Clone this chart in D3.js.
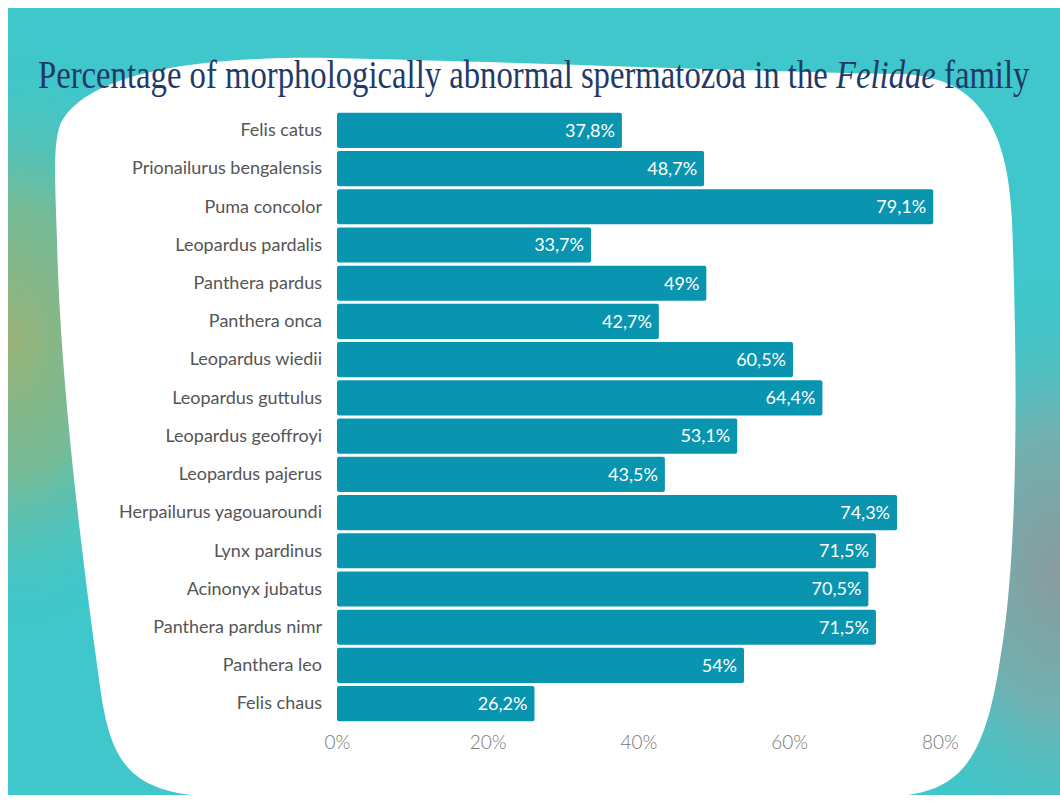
<!DOCTYPE html>
<html>
<head>
<meta charset="utf-8">
<script src="https://cdn.jsdelivr.net/npm/d3@7"></script>
<style>
  body { margin: 0; background: #fff; }
  svg { display: block; }
</style>
</head>
<body>
<div id="chart"></div>
<script>
// data
const species = [
  'Felis catus', 'Prionailurus bengalensis', 'Puma concolor', 'Leopardus pardalis',
  'Panthera pardus', 'Panthera onca', 'Leopardus wiedii', 'Leopardus guttulus',
  'Leopardus geoffroyi', 'Leopardus pajerus', 'Herpailurus yagouaroundi', 'Lynx pardinus',
  'Acinonyx jubatus', 'Panthera pardus nimr', 'Panthera leo', 'Felis chaus'
];
const values = [37.8, 48.7, 79.1, 33.7, 49, 42.7, 60.5, 64.4, 53.1, 43.5, 74.3, 71.5, 70.5, 71.5, 54, 26.2];
const ticks = [0, 20, 40, 60, 80];

const width = 1060;
const height = 801;
const margin = {top: 112, right: 120, bottom: 80, left: 337};

const svg = d3.select('#chart')
  .append('svg')
    .attr('width', width)
    .attr('height', height);

//
// BACKGROUND
//
const defs = svg.append('defs');
const g1 = defs.append('radialGradient')
  .attr('id', 'warm')
  .attr('gradientUnits', 'userSpaceOnUse')
  .attr('cx', 0).attr('cy', 0).attr('r', 1)
  .attr('gradientTransform', 'translate(10,340) scale(200,300)');
g1.append('stop').attr('offset', '0%').attr('stop-color', '#98b275');
g1.append('stop').attr('offset', '45%').attr('stop-color', '#82b88a').attr('stop-opacity', 0.8);
g1.append('stop').attr('offset', '100%').attr('stop-color', '#3fc7cb').attr('stop-opacity', 0);
const g2 = defs.append('radialGradient')
  .attr('id', 'grey')
  .attr('gradientUnits', 'userSpaceOnUse')
  .attr('cx', 0).attr('cy', 0).attr('r', 1)
  .attr('gradientTransform', 'translate(1060,570) scale(200,300)');
g2.append('stop').attr('offset', '0%').attr('stop-color', '#8a9a9d');
g2.append('stop').attr('offset', '45%').attr('stop-color', '#7faaa8').attr('stop-opacity', 0.8);
g2.append('stop').attr('offset', '100%').attr('stop-color', '#3fc7cb').attr('stop-opacity', 0);

['#3fc7cb', 'url(#warm)', 'url(#grey)'].forEach(f => {
  svg.append('rect')
    .attr('x', 8).attr('y', 8)
    .attr('width', width - 8).attr('height', 787)
    .attr('fill', f);
});

// white blob
svg.append('path')
  .attr('fill', '#fff')
  .attr('d', 'M60,125 C85,72 200,56 330,58 C520,62 760,72 900,74 ' +
    'C980,76 1008,130 1012,220 C1018,380 1018,560 1000,660 ' +
    'C985,760 960,790 900,796 L200,796 C130,790 112,760 102,700 ' +
    'C82,560 60,380 57,240 C55,180 53,145 60,125 Z');

//
// TITLE
//
const titleG = svg.append('g');
const title = titleG.append('text')
  .attr('x', 0)
  .attr('y', 0)
  .attr('font-family', '"Liberation Serif", "DejaVu Serif", serif')
  .attr('font-size', 40)
  .attr('fill', '#1f3a68');
title.append('tspan').text('Percentage of morphologically abnormal spermatozoa in the ');
title.append('tspan').attr('font-style', 'italic').text('Felidae');
title.append('tspan').text(' family');
const tw = title.node().getComputedTextLength();
titleG.attr('transform', `translate(38,88) scale(${992 / tw},1)`);

//
// CHART
//
const x = d3.scaleLinear()
  .domain([0, 80])
  .range([margin.left, 940]);
const y = d3.scaleBand()
  .domain(species)
  .range([112, 722])
  .paddingInner(0.08)
  .paddingOuter(0.02);

svg.append('g')
  .selectAll('rect')
  .data(values)
  .join('rect')
    .attr('x', x(0))
    .attr('y', (d, i) => y(species[i]))
    .attr('width', d => x(d) - x(0))
    .attr('height', y.bandwidth())
    .attr('rx', 2)
    .attr('fill', '#0995b0');

const fmt = d => String(d).replace('.', ',') + '%';

svg.append('g')
  .selectAll('text')
  .data(values)
  .join('text')
    .attr('x', d => x(d) - 7)
    .attr('y', (d, i) => y(species[i]) + y.bandwidth() / 2)
    .attr('dy', '0.35em')
    .attr('text-anchor', 'end')
    .attr('font-family', 'Lato, "Open Sans", sans-serif')
    .attr('font-size', 18)
    .attr('fill', '#fff')
    .text(fmt);

// category axis
svg.append('g')
  .attr('transform', `translate(${x(0) - 15},0)`)
  .call(d3.axisLeft(y).tickSize(0).tickPadding(0))
  .call(g => g.select('.domain').remove())
  .call(g => g.selectAll('.tick text')
    .attr('font-family', 'Lato, "Open Sans", sans-serif')
    .attr('font-size', 18)
    .attr('fill', '#555'));

// value axis
svg.append('g')
  .attr('transform', `translate(0,${735})`)
  .call(d3.axisBottom(x).tickValues(ticks).tickSize(0).tickPadding(0)
    .tickFormat(d => d + '%'))
  .call(g => g.select('.domain').remove())
  .call(g => g.selectAll('.tick text')
    .attr('font-family', 'Lato, "Open Sans", sans-serif')
    .attr('font-weight', 300)
    .attr('font-size', 19)
    .attr('fill', '#777'));
</script>
</body>
</html>
